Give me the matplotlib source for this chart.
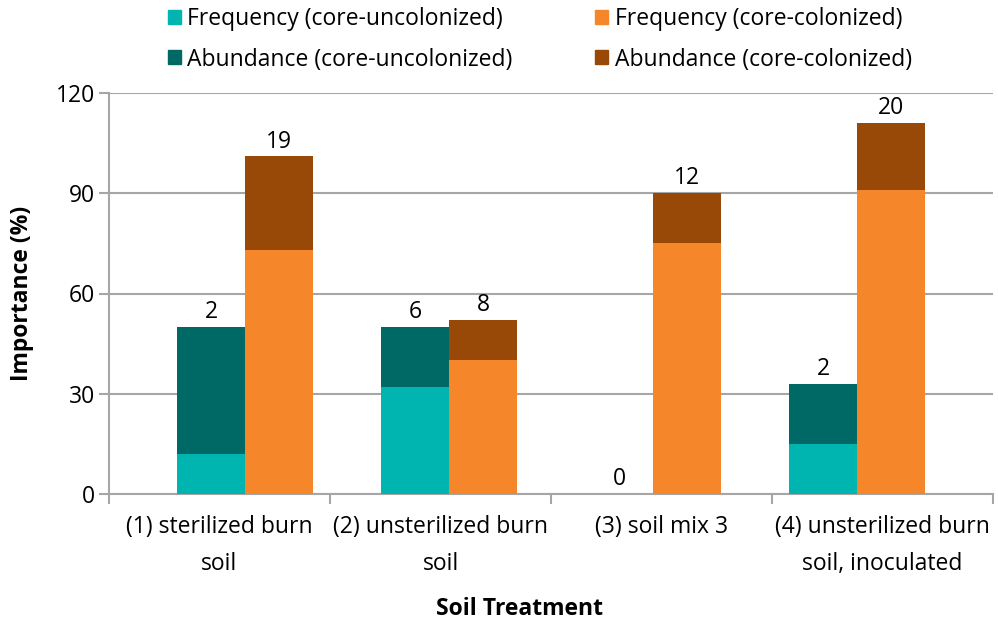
import matplotlib
matplotlib.use("Agg")
import matplotlib.pyplot as plt
from matplotlib.patches import Patch
import numpy as np

plt.rcParams['font.family'] = ['Open Sans', 'DejaVu Sans']

categories = ["(1) sterilized burn\nsoil", "(2) unsterilized burn\nsoil",
              "(3) soil mix 3", "(4) unsterilized burn\nsoil, inoculated"]
freq_uncol = [12, 32, 0, 15]
abund_uncol = [38, 18, 0, 18]
freq_col = [73, 40, 75, 91]
abund_col = [28, 12, 15, 20]
labels_uncol = ["2", "6", "0", "2"]
labels_col = ["19", "8", "12", "20"]
yticks = [0, 30, 60, 90, 120]

c_fu = "#00B5B0"
c_au = "#006966"
c_fc = "#F5862A"
c_ac = "#984807"
grid_c = "#A6A6A6"
FS = 16.5

fig = plt.figure(figsize=(9.98, 6.22), dpi=100)
ax = fig.add_axes([109/998, 1-494/622, (993-109)/998, (494-93)/622])

n = len(categories)
# 13 slots: blank, uncol, col, blank, uncol, col, ...
x_uncol = np.array([1 + 3*i for i in range(n)])
x_col = x_uncol + 1

ax.bar(x_uncol, freq_uncol, width=1.0, color=c_fu, zorder=3)
ax.bar(x_uncol, abund_uncol, bottom=freq_uncol, width=1.0, color=c_au, zorder=3)
ax.bar(x_col, freq_col, width=1.0, color=c_fc, zorder=3)
ax.bar(x_col, abund_col, bottom=freq_col, width=1.0, color=c_ac, zorder=3)

for i in range(n):
    tu = freq_uncol[i] + abund_uncol[i]
    tc = freq_col[i] + abund_col[i]
    ax.annotate(labels_uncol[i], (x_uncol[i], tu), xytext=(0, 2), textcoords="offset points",
                ha="center", va="bottom", fontsize=FS, color="black")
    ax.annotate(labels_col[i], (x_col[i], tc), xytext=(0, 2), textcoords="offset points",
                ha="center", va="bottom", fontsize=FS, color="black")

ax.set_xlim(-0.5, 12.5)
ax.set_ylim(0, 120)
ax.set_yticks(yticks)
ax.set_yticklabels([str(v) for v in yticks], fontsize=FS)
ax.yaxis.grid(True, color=grid_c, linewidth=1.5, zorder=0)
ax.set_axisbelow(True)

bounds = [-0.5 + 13 * k / n for k in range(n + 1)]
centers = [(bounds[k] + bounds[k + 1]) / 2 for k in range(n)]
ax.set_xticks(bounds)
ax.set_xticklabels([])
ax.set_xticks(centers, minor=True)
ax.set_xticklabels(categories, minor=True, fontsize=FS, linespacing=1.75)
ax.tick_params(axis='x', which='minor', length=0, pad=15)
ax.tick_params(axis='x', which='major', length=7, width=1.5, color=grid_c, direction='out')
ax.tick_params(axis='y', length=7, width=1.5, color=grid_c, direction='out', pad=3)

for s in ['top', 'right']:
    ax.spines[s].set_visible(False)
for s in ['left', 'bottom']:
    ax.spines[s].set_color(grid_c)
    ax.spines[s].set_linewidth(1.5)

fig.text(22/998, 1-293/622, "Importance (%)", fontsize=FS, fontweight='bold',
         rotation=90, ha='center', va='center')
fig.text(520/998, 1-609/622, "Soil Treatment", fontsize=FS, fontweight='bold',
         ha='center', va='center')

handles = [Patch(color=c_fu, label="Frequency (core-uncolonized)"),
           Patch(color=c_au, label="Abundance (core-uncolonized)"),
           Patch(color=c_fc, label="Frequency (core-colonized)"),
           Patch(color=c_ac, label="Abundance (core-colonized)")]
fig.legend(handles=handles, ncol=2, loc='upper left', bbox_to_anchor=(168/998, 1-7/622),
           frameon=False, fontsize=FS, handlelength=0.55, handleheight=0.55,
           handletextpad=0.3, columnspacing=3.6, labelspacing=0.72,
           borderpad=0, borderaxespad=0)

fig.savefig("out.png", dpi=100)
